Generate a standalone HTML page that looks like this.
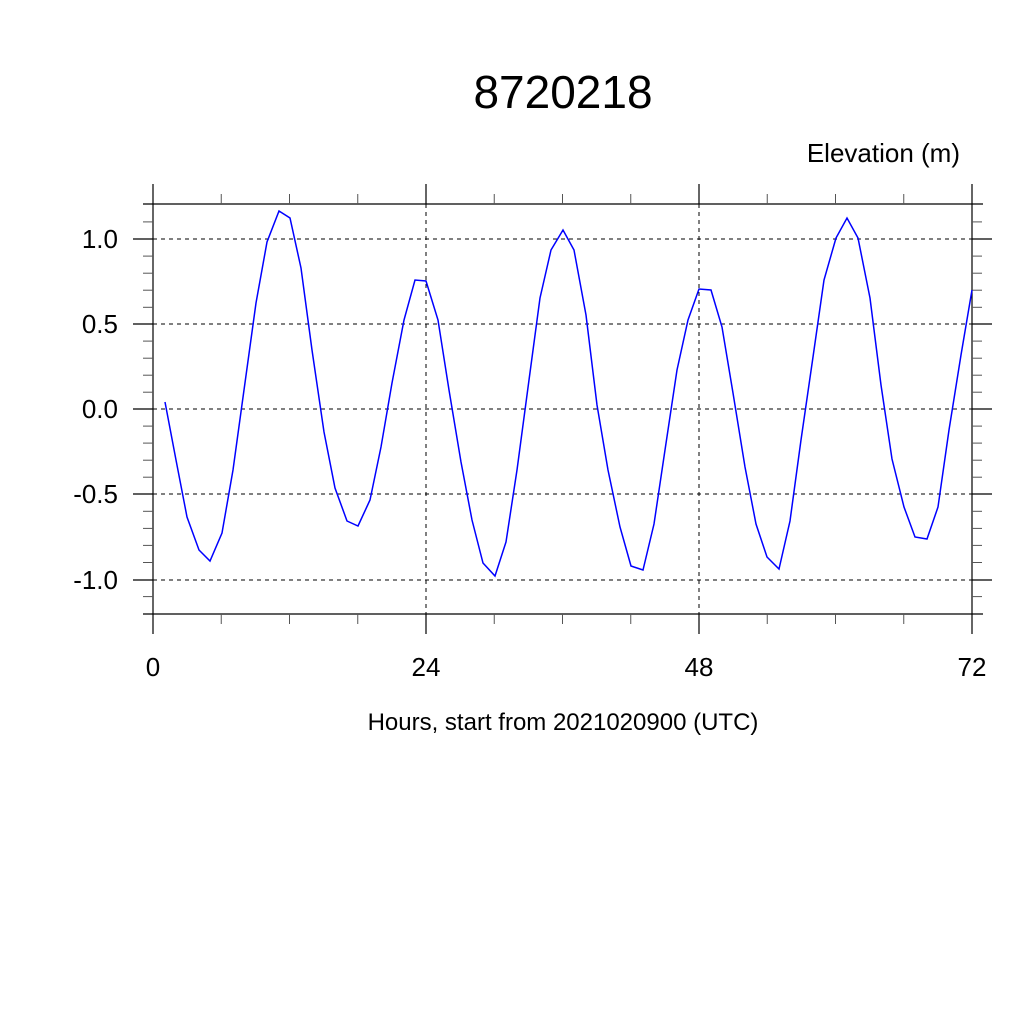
<!DOCTYPE html>
<html><head><meta charset="utf-8"><style>body{margin:0;background:#fff}svg{display:block}</style></head><body>
<svg width="1024" height="1024" xmlns="http://www.w3.org/2000/svg" font-family="Liberation Sans, sans-serif">
<rect width="1024" height="1024" fill="#fff"/>
<text x="563" y="108" font-size="46" text-anchor="middle">8720218</text>
<text x="960" y="162" font-size="26" text-anchor="end">Elevation (m)</text>
<g stroke="#000" stroke-width="1" stroke-dasharray="4,4">
<line x1="153" y1="239" x2="972" y2="239"/><line x1="153" y1="324" x2="972" y2="324"/>
<line x1="153" y1="409" x2="972" y2="409"/><line x1="153" y1="494" x2="972" y2="494"/>
<line x1="153" y1="580" x2="972" y2="580"/>
<line x1="426" y1="204" x2="426" y2="614"/><line x1="699" y1="204" x2="699" y2="614"/>
</g>
<g stroke="#000" stroke-width="1.2">
<line x1="153" y1="184" x2="153" y2="634"/><line x1="972" y1="184" x2="972" y2="634"/>
<line x1="426" y1="184" x2="426" y2="204"/><line x1="426" y1="614" x2="426" y2="634"/>
<line x1="699" y1="184" x2="699" y2="204"/><line x1="699" y1="614" x2="699" y2="634"/>
<line x1="143" y1="204" x2="983" y2="204"/><line x1="143" y1="614" x2="983" y2="614"/>
<line x1="133" y1="239" x2="153" y2="239"/><line x1="972" y1="239" x2="992" y2="239"/>
<line x1="133" y1="324" x2="153" y2="324"/><line x1="972" y1="324" x2="992" y2="324"/>
<line x1="133" y1="409" x2="153" y2="409"/><line x1="972" y1="409" x2="992" y2="409"/>
<line x1="133" y1="494" x2="153" y2="494"/><line x1="972" y1="494" x2="992" y2="494"/>
<line x1="133" y1="580" x2="153" y2="580"/><line x1="972" y1="580" x2="992" y2="580"/>
</g>
<g stroke="#555" stroke-width="1">
<line x1="221.25" y1="194" x2="221.25" y2="204"/><line x1="221.25" y1="614" x2="221.25" y2="624"/>
<line x1="289.5" y1="194" x2="289.5" y2="204"/><line x1="289.5" y1="614" x2="289.5" y2="624"/>
<line x1="357.75" y1="194" x2="357.75" y2="204"/><line x1="357.75" y1="614" x2="357.75" y2="624"/>
<line x1="494.25" y1="194" x2="494.25" y2="204"/><line x1="494.25" y1="614" x2="494.25" y2="624"/>
<line x1="562.5" y1="194" x2="562.5" y2="204"/><line x1="562.5" y1="614" x2="562.5" y2="624"/>
<line x1="630.75" y1="194" x2="630.75" y2="204"/><line x1="630.75" y1="614" x2="630.75" y2="624"/>
<line x1="767.25" y1="194" x2="767.25" y2="204"/><line x1="767.25" y1="614" x2="767.25" y2="624"/>
<line x1="835.5" y1="194" x2="835.5" y2="204"/><line x1="835.5" y1="614" x2="835.5" y2="624"/>
<line x1="903.75" y1="194" x2="903.75" y2="204"/><line x1="903.75" y1="614" x2="903.75" y2="624"/>
<line x1="143" y1="221.9" x2="153" y2="221.9"/><line x1="972" y1="221.9" x2="982" y2="221.9"/>
<line x1="143" y1="256.1" x2="153" y2="256.1"/><line x1="972" y1="256.1" x2="982" y2="256.1"/>
<line x1="143" y1="273.2" x2="153" y2="273.2"/><line x1="972" y1="273.2" x2="982" y2="273.2"/>
<line x1="143" y1="290.2" x2="153" y2="290.2"/><line x1="972" y1="290.2" x2="982" y2="290.2"/>
<line x1="143" y1="307.3" x2="153" y2="307.3"/><line x1="972" y1="307.3" x2="982" y2="307.3"/>
<line x1="143" y1="341.1" x2="153" y2="341.1"/><line x1="972" y1="341.1" x2="982" y2="341.1"/>
<line x1="143" y1="358.2" x2="153" y2="358.2"/><line x1="972" y1="358.2" x2="982" y2="358.2"/>
<line x1="143" y1="375.2" x2="153" y2="375.2"/><line x1="972" y1="375.2" x2="982" y2="375.2"/>
<line x1="143" y1="392.2" x2="153" y2="392.2"/><line x1="972" y1="392.2" x2="982" y2="392.2"/>
<line x1="143" y1="426.1" x2="153" y2="426.1"/><line x1="972" y1="426.1" x2="982" y2="426.1"/>
<line x1="143" y1="443.1" x2="153" y2="443.1"/><line x1="972" y1="443.1" x2="982" y2="443.1"/>
<line x1="143" y1="460.2" x2="153" y2="460.2"/><line x1="972" y1="460.2" x2="982" y2="460.2"/>
<line x1="143" y1="477.2" x2="153" y2="477.2"/><line x1="972" y1="477.2" x2="982" y2="477.2"/>
<line x1="143" y1="511.3" x2="153" y2="511.3"/><line x1="972" y1="511.3" x2="982" y2="511.3"/>
<line x1="143" y1="528.4" x2="153" y2="528.4"/><line x1="972" y1="528.4" x2="982" y2="528.4"/>
<line x1="143" y1="545.4" x2="153" y2="545.4"/><line x1="972" y1="545.4" x2="982" y2="545.4"/>
<line x1="143" y1="562.5" x2="153" y2="562.5"/><line x1="972" y1="562.5" x2="982" y2="562.5"/>
<line x1="143" y1="596.6" x2="153" y2="596.6"/><line x1="972" y1="596.6" x2="982" y2="596.6"/>
</g>
<polyline fill="none" stroke="#0000ff" stroke-width="1.5" points="165,402 176,460 187,517 199,550 210,561 222,533 233,470 244,390 256,303 267,242 279,211 290,218 301,268 312,350 324,432 335,488 347,521 358,526 370,500 381,447 392,383 404,320 415,280 426,281 438,320 449,390 461,462 472,520 483,563 495,576 506,542 517,470 529,380 540,298 551,250 563,230 574,250 586,315 597,405 608,470 620,527 631,566 643,570 654,524 665,450 677,370 688,320 699,289 711,290 722,327 733,393 745,467 756,524 767,557 779,569 790,521 801,440 813,357 824,280 836,238 847,218 858,238 870,298 881,385 892,459 904,507 915,537 927,539 938,507 949,430 961,355 972,290"/>
<g font-size="26" text-anchor="end">
<text x="118" y="248">1.0</text><text x="118" y="333">0.5</text><text x="118" y="418">0.0</text>
<text x="118" y="503">-0.5</text><text x="118" y="589">-1.0</text>
</g>
<g font-size="26" text-anchor="middle">
<text x="153" y="676">0</text><text x="426" y="676">24</text><text x="699" y="676">48</text><text x="972" y="676">72</text>
</g>
<text x="563" y="730" font-size="24" text-anchor="middle">Hours, start from 2021020900 (UTC)</text>
</svg>
</body></html>
